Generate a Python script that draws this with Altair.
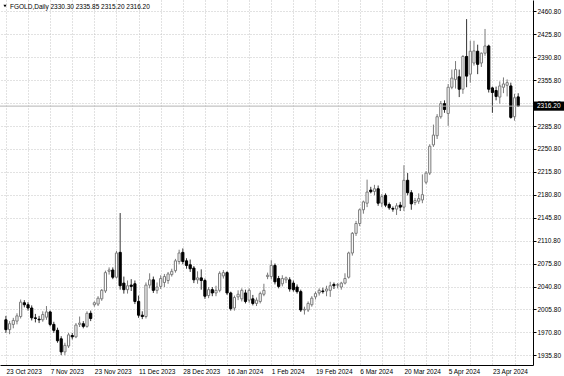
import json
import altair as alt
import pandas as pd

# ---- data ----
opens = [1990, 1975, 1983, 1988, 1995, 2016, 2013, 2008, 1993, 1991,
         1990, 1994, 2002, 1983, 1974, 1961, 1941, 1950, 1966, 1964,
         1983, 1984, 1980, 2000, 2013, 2014, 2022, 2034, 2064, 2066,
         2055, 2093, 2046, 2036, 2043, 2045, 2018, 1997, 1995, 2043,
         2051, 2035, 2041, 2047, 2050, 2059, 2065, 2079, 2093, 2080,
         2074, 2069, 2051, 2054, 2050, 2027, 2036, 2031, 2035, 2057,
         2062, 2031, 2008, 2025, 2022, 2031, 2020, 2022, 2015, 2018,
         2029, 2056, 2056, 2073, 2053, 2045, 2051, 2051, 2046, 2040,
         2033, 2005, 2005, 2013, 2025, 2031, 2034, 2034, 2035, 2044,
         2043, 2040, 2046, 2055, 2092, 2122, 2137, 2158, 2168, 2188,
         2186, 2190, 2168, 2180, 2166, 2160, 2159, 2165, 2162, 2203,
         2184, 2169, 2171, 2173, 2200, 2214, 2257, 2271, 2300, 2320,
         2305, 2345, 2357, 2361, 2342, 2392, 2365, 2382, 2400, 2382,
         2397, 2408, 2344, 2340, 2330, 2345, 2348, 2347, 2300, 2330.30]
highs = [1996, 1988, 1993, 2000, 2021, 2020, 2017, 2012, 1999, 1996,
         2003, 2011, 2004, 1987, 1978, 1965, 1955, 1970, 1970, 1985,
         1995, 1988, 2003, 2004, 2018, 2026, 2037, 2065, 2070, 2070,
         2095, 2153, 2056, 2050, 2052, 2050, 2027, 2003, 2047, 2061,
         2056, 2047, 2058, 2060, 2063, 2068, 2083, 2097, 2099, 2084,
         2082, 2072, 2064, 2067, 2053, 2040, 2040, 2042, 2064, 2066,
         2064, 2033, 2027, 2035, 2038, 2036, 2038, 2028, 2024, 2033,
         2045, 2062, 2081, 2076, 2057, 2058, 2056, 2055, 2050, 2044,
         2036, 2010, 2018, 2026, 2033, 2038, 2039, 2042, 2048, 2047,
         2046, 2048, 2061, 2094, 2124, 2141, 2160, 2172, 2204, 2193,
         2196, 2195, 2182, 2183, 2169, 2163, 2168, 2170, 2226, 2214,
         2188, 2176, 2183, 2212, 2217, 2258, 2288, 2304, 2324, 2325,
         2350, 2372, 2385, 2372, 2394, 2449, 2416, 2416, 2410, 2398,
         2434, 2410, 2346, 2346, 2354, 2360, 2357, 2352, 2335, 2335.85]
lows = [1970, 1968, 1977, 1983, 1992, 2009, 2004, 1989, 1986, 1985,
        1987, 1990, 1980, 1970, 1955, 1936, 1936, 1947, 1960, 1962,
        1979, 1977, 1978, 1988, 2010, 2011, 2019, 2031, 2059, 2052,
        2053, 2036, 2030, 2030, 2034, 2014, 1993, 1991, 1992, 2038,
        2031, 2030, 2037, 2040, 2045, 2056, 2062, 2075, 2075, 2068,
        2063, 2046, 2045, 2036, 2022, 2023, 2026, 2026, 2032, 2053,
        2028, 2004, 2004, 2020, 2018, 2015, 2016, 2012, 2011, 2015,
        2026, 2052, 2052, 2044, 2038, 2041, 2046, 2033, 2033, 2030,
        2002, 1998, 2002, 2010, 2021, 2027, 2030, 2026, 2025, 2037,
        2038, 2036, 2044, 2053, 2088, 2118, 2133, 2152, 2162, 2183,
        2180, 2164, 2162, 2162, 2158, 2155, 2150, 2156, 2156, 2180,
        2158, 2165, 2167, 2168, 2197, 2211, 2254, 2266, 2297, 2306,
        2286, 2342, 2343, 2330, 2335, 2345, 2352, 2378, 2365, 2376,
        2393, 2337, 2306, 2325, 2320, 2336, 2331, 2297, 2294, 2315.20]
closes = [1975, 1984, 1989, 1996, 2017, 2013, 2008, 1993, 1992, 1990,
          1998, 2002, 1983, 1974, 1958, 1941, 1951, 1967, 1964, 1982,
          1985, 1980, 2000, 1992, 2016, 2023, 2035, 2062, 2066, 2055,
          2092, 2042, 2036, 2042, 2041, 2018, 1997, 1995, 2043, 2051,
          2035, 2040, 2053, 2056, 2060, 2064, 2080, 2092, 2079, 2073,
          2068, 2051, 2054, 2050, 2026, 2036, 2031, 2035, 2061, 2062,
          2031, 2007, 2024, 2029, 2035, 2018, 2035, 2015, 2020, 2030,
          2035, 2058, 2073, 2048, 2041, 2053, 2054, 2037, 2036, 2033,
          2005, 2006, 2015, 2023, 2030, 2035, 2033, 2037, 2042, 2042,
          2043.5, 2046, 2053, 2092, 2122, 2137, 2158, 2170, 2185, 2185.5,
          2190, 2168, 2178, 2165, 2161, 2159, 2164, 2162, 2203, 2184,
          2167, 2172, 2175, 2181, 2214, 2255, 2272, 2300, 2320, 2311,
          2345, 2359, 2372, 2342, 2392, 2362, 2400, 2400.5, 2380, 2397,
          2408, 2342, 2337, 2331, 2347, 2350, 2352, 2299, 2329, 2316.20]

date_labels = ["23 Oct 2023", "7 Nov 2023", "23 Nov 2023", "11 Dec 2023",
               "28 Dec 2023", "16 Jan 2024", "1 Feb 2024", "19 Feb 2024",
               "6 Mar 2024", "20 Mar 2024", "5 Apr 2024", "23 Apr 2024"]
bars_per_label = 12
bars_per_grid = 6
price_ticks = [1935.80, 1970.80, 2005.80, 2040.80, 2075.80, 2110.80, 2145.80,
               2180.80, 2215.80, 2250.80, 2285.80, 2320.80, 2355.80, 2390.80,
               2425.80, 2460.80]
last_price = 2316.20
header = "FGOLD,Daily  2330.30 2335.85 2315.20 2316.20"

FONT = "Liberation Sans"
FS = 6.5

df = pd.DataFrame({"i": list(range(len(opens))), "open": opens, "high": highs,
                   "low": lows, "close": closes})

xscale = alt.Scale(domain=[-0.248, 141.66], nice=False, zero=False)
yscale = alt.Scale(domain=[1921.0, 2478.2], nice=False, zero=False)

label_expr = ("datum.value % {n} == 0 ? {arr}[datum.value / {n}] : ''"
              .format(n=bars_per_label, arr=json.dumps(date_labels)))

xaxis = alt.Axis(values=list(range(0, len(opens), bars_per_grid)),
                 labelExpr=label_expr, grid=True, gridDash=[1, 2],
                 gridColor="#c4c4c4", ticks=False, domainColor="#000000",
                 labelAlign="left", labelFont=FONT, labelFontSize=FS,
                 labelColor="#000000", labelPadding=3, title=None,
                 labelOverlap=False)
yaxis = alt.Axis(orient="right", values=price_ticks, format=".2f", grid=True,
                 gridDash=[1, 2], gridColor="#c4c4c4", tickSize=3,
                 tickColor="#000000", domainColor="#000000", labelFont=FONT,
                 labelFontSize=FS, labelColor="#000000", labelPadding=1,
                 title=None, labelOverlap=False)


def Y(field):
    return alt.Y(field, scale=yscale, axis=yaxis)


bull = "datum.close >= datum.open"
base = alt.Chart(df).encode(x=alt.X("i:Q", scale=xscale, axis=xaxis))

wicks = base.mark_rule(strokeWidth=1).encode(
    y=Y("low:Q"),
    y2="high:Q",
    color=alt.condition(bull, alt.value("#7a7a7a"), alt.value("#333333")),
)
bodies = base.mark_bar(size=2.2, strokeWidth=1).encode(
    y=Y("open:Q"),
    y2="close:Q",
    fill=alt.condition(bull, alt.value("#ffffff"), alt.value("#000000")),
    stroke=alt.condition(bull, alt.value("#7a7a7a"), alt.value("#000000")),
)

lp = pd.DataFrame({"p": [last_price]})
bid_line = alt.Chart(lp).mark_rule(color="#b4b4b4", strokeWidth=1).encode(
    y=Y("p:Q"))
price_box = alt.Chart(lp).transform_calculate(
    top="datum.p + 7", bot="datum.p - 7").mark_rect(color="#000000").encode(
    x=alt.value(534), x2=alt.value(564),
    y=Y("top:Q"), y2="bot:Q")
price_text = alt.Chart(lp).mark_text(
    align="left", baseline="middle", color="#ffffff", font=FONT,
    fontSize=FS).encode(
    x=alt.value(537), y=Y("p:Q"),
    text=alt.Text("p:Q", format=".2f"))

hd = pd.DataFrame({"t": [header]})
head_tri = alt.Chart(hd).mark_point(shape="triangle-down", filled=True,
                                    size=10, color="#000000", opacity=1).encode(
    x=alt.value(5), y=alt.value(6))
head_text = alt.Chart(hd).mark_text(align="left", baseline="middle",
                                    font=FONT, fontSize=FS,
                                    color="#000000").encode(
    x=alt.value(10), y=alt.value(6.5), text="t:N")

chart = alt.layer(wicks, bodies, bid_line, price_box, price_text,
                  head_tri, head_text).properties(
    width=533, height=365,
    padding={"left": 0, "top": 0, "right": 31, "bottom": 11},
    autosize=alt.AutoSizeParams(type="none"),
    background="#ffffff",
).configure_view(stroke=None)

chart.save("out.html", embed_options={"renderer": "svg", "actions": False})
